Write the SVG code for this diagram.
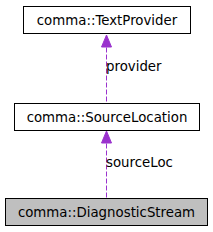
<svg xmlns="http://www.w3.org/2000/svg" width="213" height="232" viewBox="0 0 213 232">
<style>
.box{fill:#fff;stroke:#000;stroke-width:1}
.cur{fill:#bfbfbf;stroke:#000;stroke-width:1}
text{font-family:"DejaVu Sans",sans-serif;font-size:13.33px;fill:#000}
.edge{stroke:#9a32cd;stroke-width:1;stroke-dasharray:5,2;fill:none}
.head{fill:#9a32cd;stroke:#9a32cd}
</style>
<rect width="213" height="232" fill="#fff"/>
<g id="connectors">
<path class="edge" d="M106.5,197.5 L106.5,141"/>
<polygon class="head" points="101.5,143 106.5,131 111.5,143"/>
<text x="106" y="167">sourceLoc</text>
<path class="edge" d="M106.5,101.5 L106.5,45"/>
<polygon class="head" points="101.5,47 106.5,35 111.5,47"/>
<text x="106" y="71">provider</text>
</g>
<g id="node-TextProvider">
<rect class="box" x="23.5" y="6.5" width="167" height="27"/>
<text x="107" y="24.5" text-anchor="middle">comma::TextProvider</text>
</g>
<g id="node-SourceLocation">
<rect class="box" x="14.5" y="103.5" width="185" height="27"/>
<text x="107" y="121.5" text-anchor="middle">comma::SourceLocation</text>
</g>
<g id="node-DiagnosticStream">
<rect class="cur" x="5.5" y="198.5" width="202" height="27"/>
<text x="106.5" y="216.5" text-anchor="middle">comma::DiagnosticStream</text>
</g>
</svg>
